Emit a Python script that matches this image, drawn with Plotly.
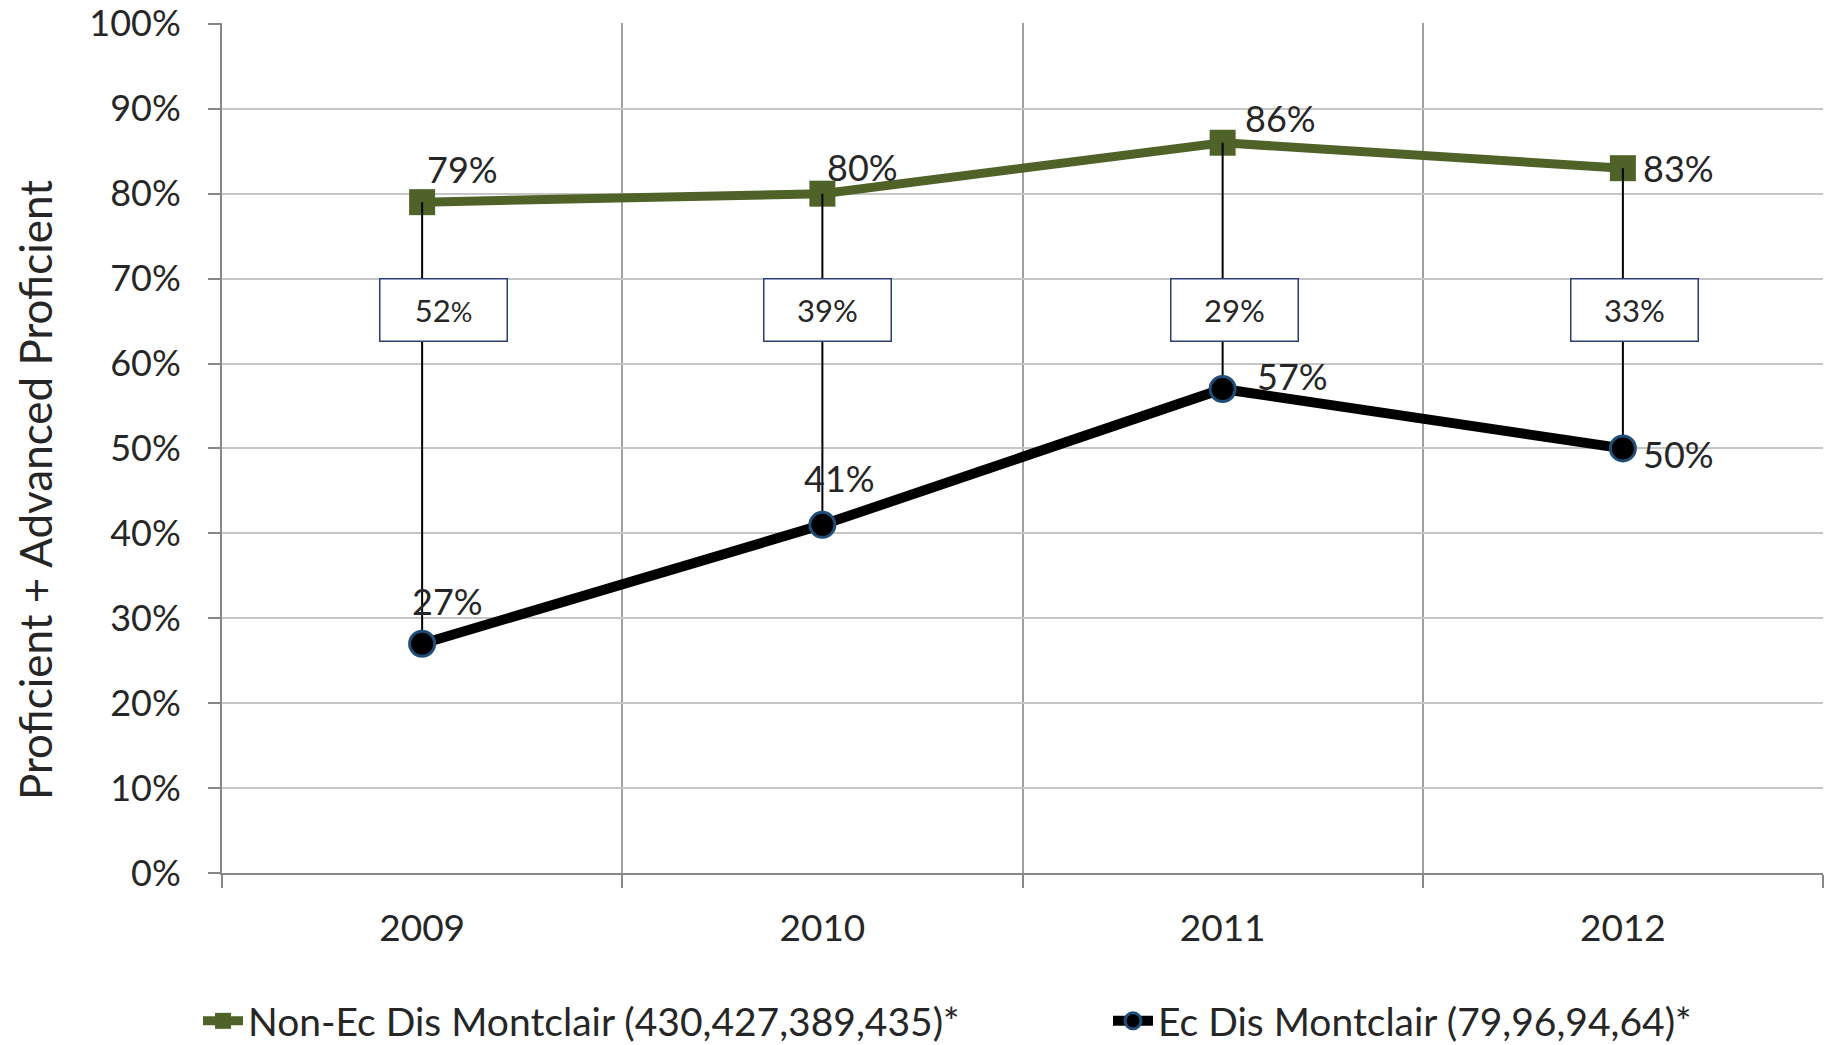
import plotly.graph_objects as go

# ---- data ----
years = ["2009", "2010", "2011", "2012"]
non_ec = [79, 80, 86, 83]          # Non-Ec Dis Montclair, %
ec = [27, 41, 57, 50]              # Ec Dis Montclair, %
gap = [52, 39, 29, 33]             # difference, %
y_ticks = [0, 10, 20, 30, 40, 50, 60, 70, 80, 90, 100]
non_ec_name = "Non-Ec Dis Montclair (430,427,389,435)*"
ec_name = "Ec Dis Montclair (79,96,94,64)*"

# ---- styles ----
FONT = "Lato, 'Open Sans', sans-serif"
TXT = "#262626"
GREEN = "#4F6228"
W, H = 1829, 1045
L, R, T, B = 222, 6, 23, 172

green_lbl_shift = [(40, 33), (40, 27), (58, 25), (56, 0)]
black_lbl_shift = [(25, 43), (17, 47), (70, 13), (56, -6)]
box_xshift = [21, 5, 12, 12]
box_y = 0.663

fig = go.Figure()

fig.add_trace(go.Scatter(
    x=years, y=[v / 100 for v in non_ec], name=non_ec_name, mode="lines+markers",
    line=dict(color=GREEN, width=9),
    marker=dict(symbol="square", size=26, color=GREEN),
    legend="legend",
))

# connector lines between the two series
cx, cy = [], []
for yr, a, b in zip(years, non_ec, ec):
    cx += [yr, yr, None]
    cy += [a / 100, b / 100, None]
fig.add_trace(go.Scatter(x=cx, y=cy, mode="lines", line=dict(color="black", width=2),
                         showlegend=False, hoverinfo="skip"))

fig.add_trace(go.Scatter(
    x=years, y=[v / 100 for v in ec], name=ec_name, mode="lines+markers",
    line=dict(color="black", width=10),
    marker=dict(symbol="circle", size=25, color="black",
                line=dict(color="#1F4E79", width=3)),
    legend="legend2",
))

annotations = []
for i, (v, (dx, dy)) in enumerate(zip(non_ec, green_lbl_shift)):
    annotations.append(dict(x=i, y=v / 100, text=f"{v}%", showarrow=False,
                            xanchor="center", yanchor="middle", xshift=dx, yshift=dy,
                            font=dict(size=36, color=TXT, family=FONT)))
for i, (v, (dx, dy)) in enumerate(zip(ec, black_lbl_shift)):
    annotations.append(dict(x=i, y=v / 100, text=f"{v}%", showarrow=False,
                            xanchor="center", yanchor="middle", xshift=dx, yshift=dy,
                            font=dict(size=36, color=TXT, family=FONT)))
for i, g in enumerate(gap):
    txt = f'{g}<span style="font-size:27px">%</span>' if i == 0 else f"{g}%"
    annotations.append(dict(x=i, y=box_y, text=txt, showarrow=False,
                            xanchor="center", yanchor="middle", xshift=box_xshift[i],
                            width=126, height=61, borderpad=0, bgcolor="white",
                            bordercolor="#2E3D78", borderwidth=1.5,
                            font=dict(size=31, color=TXT, family=FONT)))

annotations.append(dict(x=0, y=(H - B - 490) / (H - T - B), xref="paper", yref="paper",
                        xshift=35 - L, text="Proficient + Advanced Proficient",
                        textangle=-90, showarrow=False, xanchor="center", yanchor="middle",
                        font=dict(size=44, color=TXT, family=FONT)))

fig.update_layout(
    width=W, height=H,
    margin=dict(l=L, r=R, t=T, b=B, autoexpand=False),
    paper_bgcolor="white", plot_bgcolor="white",
    font=dict(family=FONT, color=TXT, size=36),
    annotations=annotations,
    legend=dict(orientation="h", xref="container", yref="container",
                x=198 / W, y=1 - 1021 / H, xanchor="left", yanchor="middle",
                font=dict(size=39, color=TXT, family=FONT), itemwidth=40),
    legend2=dict(orientation="h", xref="container", yref="container",
                 x=1108 / W, y=1 - 1021 / H, xanchor="left", yanchor="middle",
                 font=dict(size=39, color=TXT, family=FONT), itemwidth=40),
    xaxis=dict(type="category", range=[-0.5, 3.5], tickson="boundaries",
               showgrid=True, gridcolor="#A0A0A0", gridwidth=1.5,
               showline=True, linecolor="#878787", linewidth=2,
               ticks="outside", ticklen=13, tickcolor="#878787", tickwidth=2,
               ticklabelstandoff=22, automargin=False,
               tickfont=dict(size=37, color=TXT, family=FONT), zeroline=False),
    yaxis=dict(range=[0, 1.001], tickvals=[t / 100 for t in y_ticks],
               ticktext=[f"{t}%" for t in y_ticks],
               showgrid=True, gridcolor="#C6C6C6", gridwidth=1.5,
               showline=True, linecolor="#878787", linewidth=2,
               ticks="outside", ticklen=12, tickcolor="#878787", tickwidth=2,
               ticklabelstandoff=20, ticklabeloverflow="allow", automargin=False,
               tickfont=dict(size=36, color=TXT, family=FONT), zeroline=False),
)

fig.write_html("out.html", post_script="document.body.style.margin='0';",
               config={"displayModeBar": False})
